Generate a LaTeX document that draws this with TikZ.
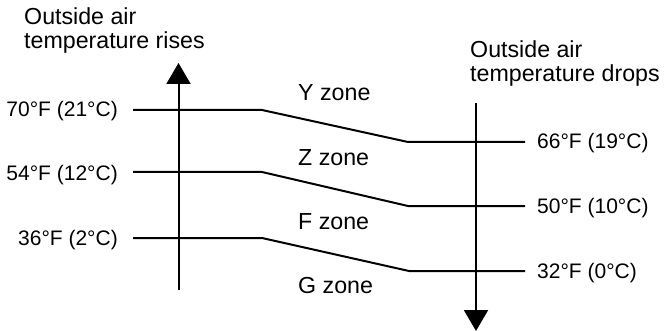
\documentclass[tikz,border=0pt]{standalone}
\usepackage{fontspec}
\setmainfont{Liberation Sans}
\usetikzlibrary{arrows.meta}
\begin{document}
\begin{tikzpicture}[x=1pt,y=-1pt,
  txt/.style={inner sep=0pt,font=\fontsize{23.2}{24}\selectfont},
  deg/.style={inner sep=0pt,font=\fontsize{21}{24}\selectfont},
  ln/.style={line width=2pt,line join=miter},
  axis/.style={line width=2pt,-{Triangle[width=24pt,length=21pt]}}]
\useasboundingbox (0,0) rectangle (666,331);
% headers
\node[txt,anchor=west,align=left] (hl) at (24,31) {Outside air\\temperature rises};
\node[txt,anchor=west,align=left] (hr) at (470,64) {Outside air\\temperature drops};
% axes
\coordinate (lb) at (178.5,290);
\coordinate (lt) at (178.5,63);
\coordinate (rb) at (476,103);
\coordinate (rt) at (476,331);
\draw[axis] (lb) -- (lt);
\draw[axis] (rb) -- (rt);
% line points
\coordinate (a1) at (133,110); \coordinate (b1) at (262,110); \coordinate (c1) at (408,142); \coordinate (d1) at (525,142);
\coordinate (a2) at (133,172); \coordinate (b2) at (262,172); \coordinate (c2) at (408,206); \coordinate (d2) at (525,206);
\coordinate (a3) at (133,238); \coordinate (b3) at (262,238); \coordinate (c3) at (409,271); \coordinate (d3) at (525,271);
% labels
\node[deg,anchor=east] (l70) at (118,111) {70°F (21°C)};
\node[deg,anchor=east] (l54) at (118,175) {54°F (12°C)};
\node[deg,anchor=east] (l36) at (118,240) {36°F (2°C)};
\node[deg,anchor=west] (r66) at (537,143) {66°F (19°C)};
\node[deg,anchor=west] (r50) at (537,208) {50°F (10°C)};
\node[deg,anchor=west] (r32) at (537,273) {32°F (0°C)};
\draw[ln] (a1) -- (b1) -- (c1) -- (d1);
\draw[ln] (a2) -- (b2) -- (c2) -- (d2);
\draw[ln] (a3) -- (b3) -- (c3) -- (d3);
% zones
\node[txt,anchor=west] (zy) at (298,93) {Y zone};
\node[txt,anchor=west] (zz) at (298,158) {Z zone};
\node[txt,anchor=west] (zf) at (298,222) {F zone};
\node[txt,anchor=west] (zg) at (298,286) {G zone};
\end{tikzpicture}
\end{document}
